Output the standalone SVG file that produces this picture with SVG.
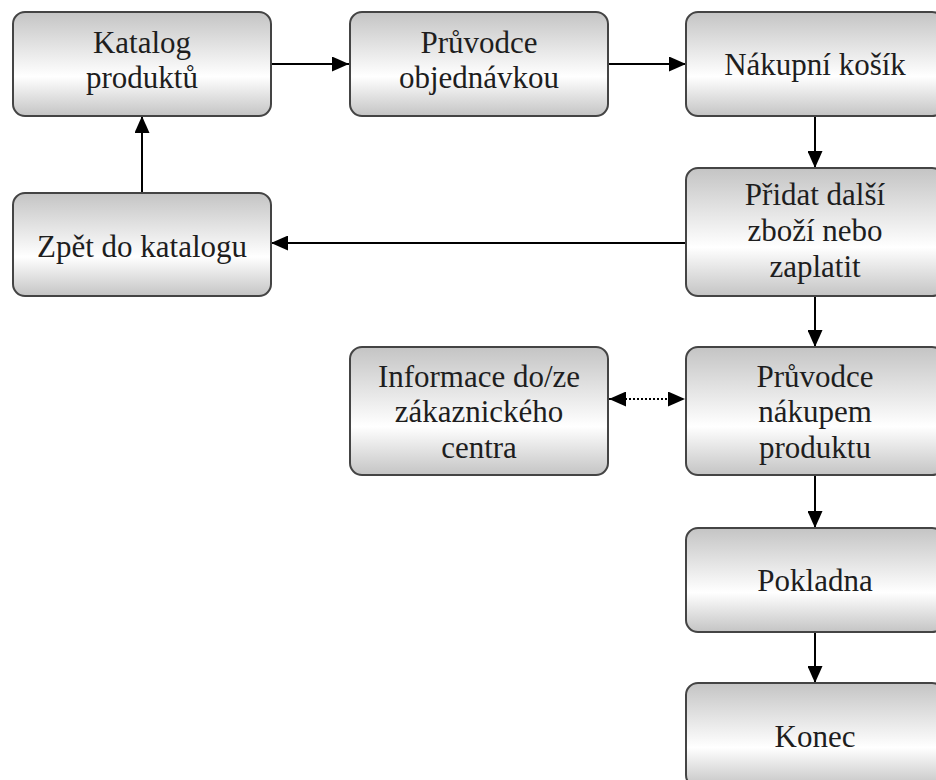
<svg xmlns="http://www.w3.org/2000/svg" width="936" height="780" viewBox="0 0 936 780">
<defs>
<linearGradient id="g" x1="0" y1="0" x2="0" y2="1">
<stop offset="0" stop-color="#c4c4c4"/>
<stop offset="0.62" stop-color="#ffffff"/>
<stop offset="1" stop-color="#c4c4c4"/>
</linearGradient>
<marker id="ah" viewBox="0 0 17 15" refX="17" refY="7.5" markerWidth="17" markerHeight="15" markerUnits="userSpaceOnUse" orient="auto-start-reverse">
<path d="M0,0 L17,7.5 L0,15 Z" fill="#000"/>
</marker>
</defs>
<style>
.box{fill:url(#g);stroke:#444;stroke-width:2}
.t{font-size:31px;fill:#1e1e1e;text-anchor:middle}
.c{stroke:#000;stroke-width:2;fill:none}
.d{stroke:#000;stroke-width:2;fill:none;stroke-dasharray:2 2}
</style>
<rect width="936" height="780" fill="#fff"/>
<g id="connectors">
<line class="c" x1="271" y1="64" x2="349" y2="64" marker-end="url(#ah)"/>
<line class="c" x1="608" y1="64" x2="686" y2="64" marker-end="url(#ah)"/>
<line class="c" x1="815" y1="116" x2="815" y2="168" marker-end="url(#ah)"/>
<line class="c" x1="686" y1="243" x2="271" y2="243" marker-end="url(#ah)"/>
<line class="c" x1="142" y1="193" x2="142" y2="116" marker-end="url(#ah)"/>
<line class="c" x1="815" y1="296" x2="815" y2="347" marker-end="url(#ah)"/>
<line class="d" x1="609" y1="399" x2="685" y2="399" marker-start="url(#ah)" marker-end="url(#ah)"/>
<line class="c" x1="815" y1="475" x2="815" y2="528" marker-end="url(#ah)"/>
<line class="c" x1="815" y1="632" x2="815" y2="683" marker-end="url(#ah)"/>
</g>
<g font-family="'Liberation Serif', 'DejaVu Serif', serif">
<g id="katalog">
<rect class="box" x="13" y="12" width="258" height="104" rx="12"/>
<text class="t" x="142" y="53">Katalog</text>
<text class="t" x="142" y="88">produktů</text>
</g>
<g id="pruvodce-objednavkou">
<rect class="box" x="350" y="12" width="258" height="104" rx="12"/>
<text class="t" x="479" y="53">Průvodce</text>
<text class="t" x="479" y="88">objednávkou</text>
</g>
<g id="nakupni-kosik">
<rect class="box" x="686" y="12" width="258" height="104" rx="12"/>
<text class="t" x="815" y="75">Nákupní košík</text>
</g>
<g id="zpet">
<rect class="box" x="13" y="193" width="258" height="103" rx="12"/>
<text class="t" x="142" y="257">Zpět do katalogu</text>
</g>
<g id="pridat">
<rect class="box" x="686" y="168" width="258" height="128" rx="12"/>
<text class="t" x="815" y="205">Přidat další</text>
<text class="t" x="815" y="241">zboží nebo</text>
<text class="t" x="815" y="277">zaplatit</text>
</g>
<g id="informace">
<rect class="box" x="350" y="347" width="258" height="128" rx="12"/>
<text class="t" x="479" y="387">Informace do/ze</text>
<text class="t" x="479" y="422">zákaznického</text>
<text class="t" x="479" y="458">centra</text>
</g>
<g id="pruvodce-nakupem">
<rect class="box" x="686" y="347" width="258" height="128" rx="12"/>
<text class="t" x="815" y="387">Průvodce</text>
<text class="t" x="815" y="422">nákupem</text>
<text class="t" x="815" y="458">produktu</text>
</g>
<g id="pokladna">
<rect class="box" x="686" y="528" width="258" height="104" rx="12"/>
<text class="t" x="815" y="591">Pokladna</text>
</g>
<g id="konec">
<rect class="box" x="686" y="683" width="258" height="104" rx="12"/>
<text class="t" x="815" y="747">Konec</text>
</g>
</g>
</svg>
